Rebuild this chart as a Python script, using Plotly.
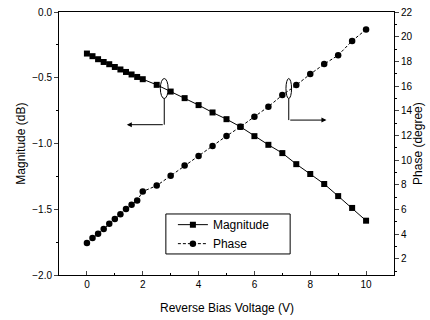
import plotly.graph_objects as go

voltage = [0.0, 0.2, 0.4, 0.6, 0.8, 1.0, 1.2, 1.4, 1.6, 1.8, 2.0,
           2.5, 3.0, 3.5, 4.0, 4.5, 5.0, 5.5, 6.0, 6.5, 7.0, 7.5, 8.0, 8.5, 9.0, 9.5, 10.0]
magnitude = [-0.316, -0.336, -0.359, -0.380, -0.397, -0.418, -0.437, -0.456, -0.475, -0.494, -0.511,
             -0.554, -0.605, -0.655, -0.708, -0.764, -0.815, -0.873, -0.944, -1.010, -1.073,
             -1.157, -1.232, -1.308, -1.400, -1.490, -1.587]
phase = [3.29, 3.70, 4.04, 4.42, 4.85, 5.23, 5.63, 6.04, 6.39, 6.73, 7.46,
         7.94, 8.73, 9.56, 10.34, 11.15, 11.96, 12.70, 13.52, 14.33, 15.27,
         16.08, 16.97, 17.78, 18.50, 19.66, 20.58]

FONT = "Liberation Sans, Arial, sans-serif"

fig = go.Figure()
fig.add_trace(go.Scatter(x=voltage, y=magnitude, name="Magnitude", mode="lines+markers",
                         line=dict(color="black", width=1),
                         marker=dict(symbol="square", size=6, color="black"),
                         yaxis="y"))
fig.add_trace(go.Scatter(x=voltage, y=phase, name="Phase", mode="lines+markers",
                         line=dict(color="black", width=1, dash="3px,2px"),
                         marker=dict(symbol="circle", size=6.5, color="black"),
                         yaxis="y2"))

# annotation ellipses and arrows (in data coordinates of x / left y)
fig.add_shape(type="circle", xref="x", yref="y", x0=2.63, x1=2.91, y0=-0.658, y1=-0.506,
              line=dict(color="black", width=1))
fig.add_shape(type="circle", xref="x", yref="y", x0=7.13, x1=7.33, y0=-0.658, y1=-0.506,
              line=dict(color="black", width=1))
fig.add_shape(type="line", xref="x", yref="y", x0=2.77, x1=2.77, y0=-0.658, y1=-0.857,
              line=dict(color="black", width=1))
fig.add_shape(type="line", xref="x", yref="y", x0=7.23, x1=7.23, y0=-0.658, y1=-0.822,
              line=dict(color="black", width=1))
fig.add_annotation(x=1.43, y=-0.857, ax=2.77, ay=-0.857, xref="x", yref="y",
                   axref="x", ayref="y", text="", showarrow=True,
                   arrowhead=2, arrowsize=1, arrowwidth=1, arrowcolor="black")
fig.add_annotation(x=8.58, y=-0.822, ax=7.23, ay=-0.822, xref="x", yref="y",
                   axref="x", ayref="y", text="", showarrow=True,
                   arrowhead=2, arrowsize=1, arrowwidth=1, arrowcolor="black")

# legend frame
fig.add_shape(type="rect", xref="paper", yref="paper", x0=0.319, x1=0.69, y0=0.08, y1=0.232,
              line=dict(color="black", width=1), fillcolor="white", layer="above")

# axis titles as annotations
fig.add_annotation(text="Magnitude (dB)", xref="paper", yref="paper", x=-0.116, y=0.5,
                   textangle=-90, showarrow=False, font=dict(size=12),
                   xanchor="center", yanchor="middle")
fig.add_annotation(text="Phase (degree)", xref="paper", yref="paper", x=1.07, y=0.5,
                   textangle=-90, showarrow=False, font=dict(size=12),
                   xanchor="center", yanchor="middle")
fig.add_annotation(text="Reverse Bias Voltage (V)", xref="paper", yref="paper", x=0.5, y=-0.125,
                   showarrow=False, font=dict(size=12),
                   xanchor="center", yanchor="middle")

fig.update_layout(
    width=430, height=320,
    margin=dict(l=59, r=36, t=12, b=45, autoexpand=False),
    paper_bgcolor="white", plot_bgcolor="white",
    font=dict(family=FONT, size=10, color="black"),
    showlegend=True,
    legend=dict(x=0.34, y=0.2466, xanchor="left", yanchor="top",
                bgcolor="rgba(0,0,0,0)", borderwidth=0,
                font=dict(family=FONT, size=12, color="black"),
                tracegroupgap=0, itemwidth=30),
    xaxis=dict(range=[-1, 11], dtick=2, tick0=0, ticks="inside", ticklen=4,
               showline=True, linecolor="black", linewidth=1, mirror=True,
               showgrid=False, zeroline=False, automargin=False,
               minor=dict(dtick=1, tick0=0, ticks="inside", ticklen=2, tickcolor="black")),
    yaxis=dict(range=[-2, 0], dtick=0.5, tickformat=".1f", ticks="outside", ticklen=4,
               showline=True, linecolor="black", linewidth=1,
               showgrid=False, zeroline=False, automargin=False,
               minor=dict(dtick=0.25, ticks="outside", ticklen=2, tickcolor="black")),
    yaxis2=dict(range=[0.7, 22], dtick=2, tick0=0, ticks="outside", ticklen=4,
                overlaying="y", side="right",
                showline=True, linecolor="black", linewidth=1,
                showgrid=False, zeroline=False, automargin=False,
                minor=dict(dtick=1, tick0=0, ticks="outside", ticklen=2, tickcolor="black")),
)

fig.write_html("out.html", config={"displayModeBar": False},
               post_script="document.body.style.margin='0px';")
